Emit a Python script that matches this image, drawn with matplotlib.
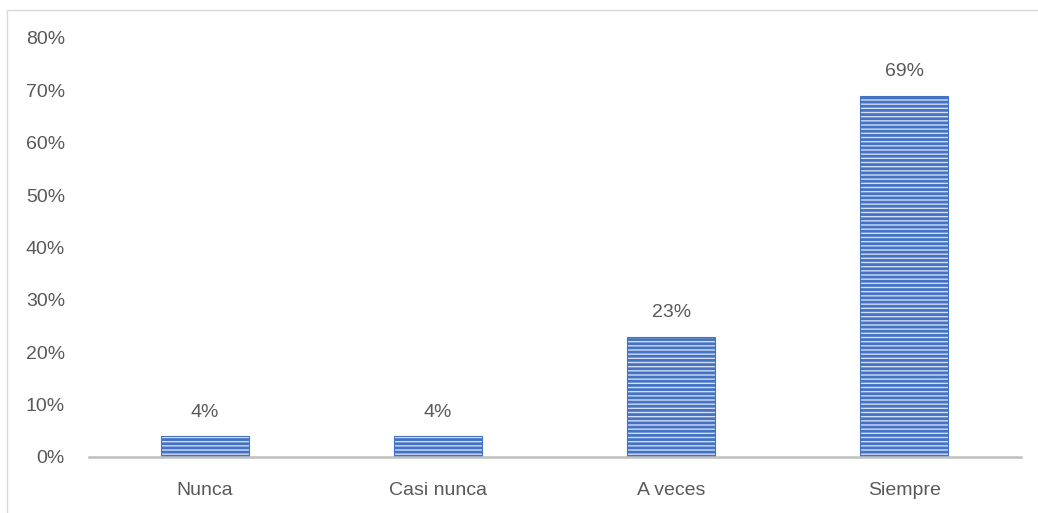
import matplotlib
matplotlib.use('Agg')
import matplotlib.pyplot as plt
from matplotlib.patches import Rectangle

# data
categorias = ['Nunca', 'Casi nunca', 'A veces', 'Siempre']
porcentajes = [4, 4, 23, 69]
yticks = [0, 10, 20, 30, 40, 50, 60, 70, 80]

gris = '#595959'
azul = '#4472C4'

plt.rcParams['font.family'] = ['Liberation Sans', 'DejaVu Sans']
plt.rcParams['hatch.color'] = azul
plt.rcParams['hatch.linewidth'] = 2.0

fig = plt.figure(figsize=(10.38, 5.13), dpi=100)
ax = fig.add_axes([0.0853, 0.1092, 0.898, 0.8168])

x = range(len(categorias))
barras = ax.bar(x, porcentajes, width=0.38, color='#D3DEF3', edgecolor=azul,
                linewidth=0.8, hatch='----', zorder=2)

# etiquetas de datos
for xi, v in zip(x, porcentajes):
    ax.annotate(str(v) + '%', (xi, v), xytext=(0, 11), textcoords='offset points',
                ha='center', va='bottom', fontsize=14, color=gris)

ax.set_xlim(-0.5, len(categorias) - 0.5)
ax.set_ylim(0, 80)
ax.set_yticks(yticks)
ax.set_yticklabels([str(t) + '%' for t in yticks])
ax.set_xticks(list(x))
ax.set_xticklabels(categorias)
ax.tick_params(axis='both', length=0, labelsize=14, labelcolor=gris)
ax.tick_params(axis='y', pad=17)
ax.tick_params(axis='x', pad=18)

for s in ['top', 'right', 'left']:
    ax.spines[s].set_visible(False)
ax.spines['bottom'].set_color('#BFBFBF')
ax.spines['bottom'].set_linewidth(1.8)
ax.spines['bottom'].set_zorder(3)

# marco exterior
fig.patches.append(Rectangle((0.007, -0.01), 1.1, 0.99, transform=fig.transFigure,
                             fill=False, edgecolor='#D9D9D9', linewidth=1))

fig.savefig('out.png', dpi=100)
